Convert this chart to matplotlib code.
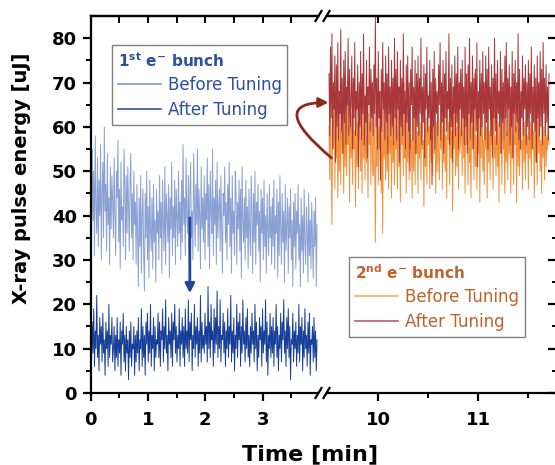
import numpy as np
import matplotlib
matplotlib.use("Agg")
import matplotlib.pyplot as plt
from matplotlib.lines import Line2D

plt.rcParams['font.family'] = ['DejaVu Sans']
plt.rcParams['mathtext.fontset'] = 'dejavusans'
plt.rcParams['mathtext.default'] = 'bf'

# ---------------- data ----------------
t1_start, t1_end = 0.0, 3.95        # first segment time span [min]
t2_start, t2_end = 9.51, 11.71      # second segment time span [min]

bunch1_before = [
    46,34,55,39,50,31,58,42,36,53,33,48,40,56,30,45,52,35,60,41,47,32,54,38,44,29,51,37,49,43,
    35,53,40,31,50,44,57,34,46,28,52,39,42,33,55,47,30,49,36,51,41,32,48,54,35,45,30,50,38,43,
    29,47,36,24,44,33,49,27,40,46,31,23,45,35,50,30,42,26,48,37,32,44,28,47,34,39,25,46,36,41,
    30,49,35,43,27,48,38,32,51,29,45,40,34,47,26,44,37,52,31,42,35,48,29,46,39,33,50,36,43,30,
    48,34,56,38,44,31,53,40,36,49,29,45,52,35,41,30,54,43,33,47,38,55,32,46,40,28,51,37,44,34,
    49,30,45,39,53,33,47,28,50,41,36,55,31,44,38,48,29,52,35,42,46,32,49,37,27,45,40,51,34,43,
    30,47,38,52,33,44,27,49,36,41,31,50,45,29,43,37,48,32,46,26,51,39,34,44,30,48,35,42,28,46,
    37,31,49,40,27,45,34,50,29,43,38,47,32,41,25,46,36,44,30,48,33,40,27,45,37,31,47,35,42,29,
    44,33,48,28,40,36,46,26,43,31,49,37,29,45,34,41,25,47,32,38,44,27,42,35,46,30,39,24,43,33,
    45,28,41,36,47,30,38,24,44,32,40,27,46,34,29,42,37,25,45,31,39,28,43,35,26,41,33,44,24,38]
bunch1_after = [
    12,7,16,9,19,6,14,10,22,8,13,5,17,11,15,7,18,9,12,4,16,10,14,6,20,8,13,11,17,7,
    10,15,5,13,8,17,6,12,9,16,4,14,11,18,7,13,5,15,9,12,3,14,8,16,6,11,10,15,4,13,
    7,14,9,17,5,12,10,19,6,15,8,13,4,16,11,18,7,14,9,20,6,13,10,17,5,15,8,12,11,18,
    8,16,6,14,12,19,7,15,10,21,9,13,5,17,11,14,8,18,6,16,12,20,9,15,7,13,10,19,6,14,
    11,17,8,15,6,19,10,14,9,21,7,16,12,18,5,13,10,20,8,15,11,17,6,14,9,22,7,16,10,13,
    9,18,11,15,7,24,10,16,8,20,12,14,6,19,9,17,11,23,8,15,10,21,7,13,12,18,9,16,6,14,
    10,19,8,15,11,22,7,14,9,17,5,13,10,20,8,16,12,18,6,15,9,21,11,14,7,17,10,19,8,13,
    6,15,9,18,11,14,7,20,10,16,5,13,8,17,12,15,6,19,9,14,11,21,7,16,4,13,10,18,8,15,
    9,17,6,14,11,20,8,15,5,13,10,18,7,16,12,21,9,14,6,17,10,19,8,15,3,12,11,18,7,14,
    10,16,6,13,9,20,7,15,11,17,5,14,8,19,10,13,6,16,9,18,4,12,11,15,7,17,8,14,5,12]
bunch2_before = [
    60,48,66,52,38,63,55,70,46,61,53,67,44,58,50,64,47,69,54,59,45,65,51,62,49,71,56,60,43,66,
    53,63,47,68,55,59,42,64,51,61,46,67,57,50,62,45,69,53,60,48,65,52,58,44,63,56,61,47,70,54,
    49,66,57,34,62,51,68,47,60,55,64,45,59,36,67,53,61,48,65,50,58,46,69,54,62,44,66,52,57,47,
    63,55,60,46,68,51,59,43,65,56,62,49,70,53,58,45,64,52,61,48,67,55,57,44,63,50,66,47,60,54,
    59,45,65,53,61,48,69,55,57,42,64,51,62,47,68,56,60,46,66,52,58,49,71,54,63,45,61,50,67,53,
    48,62,55,66,46,60,52,69,50,58,44,65,57,61,47,67,53,59,41,63,55,68,49,60,51,64,46,70,54,58,
    62,49,67,53,59,45,64,56,61,47,68,52,57,44,65,55,60,48,72,51,58,46,63,54,66,43,61,53,69,50,
    57,47,64,55,60,44,67,52,59,48,65,56,62,46,70,53,58,49,66,51,61,43,64,54,60,47,68,55,57,45,
    63,52,59,48,66,54,61,45,69,53,58,47,64,56,60,43,67,51,62,49,65,55,57,46,70,52,61,48,63,54,
    58,46,65,53,61,49,67,55,59,44,64,52,60,47,68,54,62,50,57,45,66,53,60,48,63,51,58,55,61,56]
bunch2_after = [
    72,58,78,62,81,55,70,64,76,52,74,60,79,57,68,63,82,59,71,54,75,61,77,56,69,65,80,58,73,60,
    66,76,55,71,62,79,58,68,64,74,51,70,60,77,57,72,63,81,56,67,61,75,53,69,65,78,59,73,62,70,
    58,74,63,85,60,71,55,77,62,68,48,73,59,79,64,70,57,76,61,72,54,78,63,69,58,75,60,71,56,80,
    62,73,57,77,64,69,52,75,60,71,58,81,63,68,55,74,61,76,59,70,50,73,65,78,57,69,62,75,54,72,
    60,76,58,71,63,80,56,69,61,74,53,72,64,78,59,67,62,75,57,70,47,73,60,77,55,71,63,68,58,74,
    65,79,57,70,61,75,54,72,62,77,59,68,64,81,56,71,60,74,52,69,63,76,58,72,61,78,55,70,64,73,
    58,75,62,69,56,78,60,72,54,74,63,80,57,70,61,76,55,71,64,73,59,79,51,68,62,75,58,72,60,77,
    63,70,57,76,61,73,55,78,64,69,58,74,53,71,62,80,59,72,56,75,63,68,60,77,54,73,61,70,57,76,
    62,79,58,71,64,74,56,69,60,77,53,72,63,75,59,70,61,81,57,73,55,68,62,76,58,71,64,74,56,70,
    60,75,57,72,63,78,55,69,61,74,59,71,52,76,62,70,58,77,60,73,56,79,63,71,58,74,61,69,57,72]

left_xticks = [0, 1, 2, 3]
right_xticks = [10, 11]
yticks = [0, 10, 20, 30, 40, 50, 60, 70, 80]

# ---------------- styling ----------------
c_b1_before = '#8aa0d2'
c_b1_after = '#173f9a'
c_b2_before = '#f3903a'
c_b2_after = '#a8363a'
c_txt1 = '#2b4fa3'
c_txt2 = '#c0622a'

W, H = 555, 465
fig = plt.figure(figsize=(W/100, H/100), dpi=100)

def fx(px):
    return px / W

def fy(py):
    return 1 - py / H

ax_bottom_px, ax_top_px = 393, 16
left_l, left_r = 90.7, 318
right_l, right_r = 327, 558

ax1 = fig.add_axes([fx(left_l), fy(ax_bottom_px), fx(left_r - left_l), (ax_bottom_px - ax_top_px) / H])
ax2 = fig.add_axes([fx(right_l), fy(ax_bottom_px), fx(right_r - right_l), (ax_bottom_px - ax_top_px) / H])

t1a = np.linspace(t1_start, t1_end, len(bunch1_before))
t1b = np.linspace(t1_start, t1_end, len(bunch1_after))
t2a = np.linspace(t2_start, t2_end, len(bunch2_before))
t2b = np.linspace(t2_start, t2_end, len(bunch2_after))

ax1.plot(t1a, bunch1_before, color=c_b1_before, lw=0.7)
ax1.plot(t1b, bunch1_after, color=c_b1_after, lw=0.7)
ax2.plot(t2a, bunch2_before, color=c_b2_before, lw=0.7)
ax2.plot(t2b, bunch2_after, color=c_b2_after, lw=0.7)

ylim = (0, 85)
ax1.set_xlim(0, (left_r - left_l) / 57.3)
ax1.set_ylim(*ylim)
ax2.set_xlim(10 + (right_l - 378) / 100, 10 + (right_r - 378) / 100)
ax2.set_ylim(*ylim)

for ax in (ax1, ax2):
    for s in ax.spines.values():
        s.set_linewidth(1.6)
ax1.spines['right'].set_visible(False)
ax2.spines['left'].set_visible(False)

tick_font = dict(fontsize=13, fontweight='bold')
ax1.set_xticks(left_xticks)
ax1.set_xticks(np.arange(0.5, 4.0, 1.0), minor=True)
ax1.set_yticks(yticks)
ax1.set_yticks(np.arange(5, 85, 10), minor=True)
ax1.set_xticklabels([str(v) for v in left_xticks], **tick_font)
ax1.set_yticklabels([str(v) for v in yticks], **tick_font)
ax1.tick_params(which='major', direction='out', length=6, width=1.6, pad=7)
ax1.tick_params(which='minor', direction='out', length=3.5, width=1.4)
ax1.tick_params(axis='x', which='major', pad=7)
ax1.tick_params(axis='y', which='major', pad=4)

ax2.set_xticks(right_xticks)
ax2.set_xticks([10.5, 11.5], minor=True)
ax2.set_xticklabels([str(v) for v in right_xticks], **tick_font)
ax2.set_yticks([])
ax2.tick_params(which='major', direction='out', length=6, width=1.6, pad=7)
ax2.tick_params(which='minor', direction='out', length=3.5, width=1.4)

# top inward ticks
sec1 = ax1.secondary_xaxis('top')
sec1.set_xticks(np.arange(0.5, 4.0, 0.5))
sec1.tick_params(direction='in', length=5, width=1.4, labeltop=False)
sec1.spines['top'].set_linewidth(1.6)
sec2 = ax2.secondary_xaxis('top')
sec2.set_xticks([10, 10.5, 11, 11.5])
sec2.tick_params(direction='in', length=5, width=1.4, labeltop=False)
sec2.spines['top'].set_linewidth(1.6)
# right inward ticks
sec3 = ax2.secondary_yaxis('right')
sec3.set_yticks(yticks)
sec3.set_yticks(np.arange(5, 85, 10), minor=True)
sec3.tick_params(which='major', direction='in', length=7, width=1.6, labelright=False)
sec3.tick_params(which='minor', direction='in', length=4, width=1.4)
sec3.spines['right'].set_linewidth(1.6)

# axis labels
fig.text(fx(22), fy(178), 'X-ray pulse energy [uJ]', rotation=90, ha='center', va='center',
         fontsize=14, fontweight='bold')
fig.text(fx(310), fy(454), 'Time [min]', ha='center', va='center', fontsize=16, fontweight='bold')

# break marks
for py in (ax_bottom_px, ax_top_px):
    for cx in (318.5, 326.5):
        fig.add_artist(Line2D([fx(cx - 3), fx(cx + 3)], [fy(py + 5), fy(py - 5)],
                              transform=fig.transFigure, color='black', lw=1.6))

# legends
leg_kw = dict(loc='upper left', bbox_transform=fig.transFigure, fontsize=12, title_fontsize=11,
              frameon=True, fancybox=False, edgecolor='#808080', framealpha=1, borderpad=0.35,
              labelspacing=0.4, handlelength=2.6, handletextpad=0.4, borderaxespad=0)

h1 = [Line2D([], [], color='#7a98d6', lw=1.2), Line2D([], [], color='#3556a8', lw=1.2)]
leg1 = ax1.legend(h1, ['Before Tuning', 'After Tuning'], title=r'1$^{st}$ e$^{-}$ bunch',
                  bbox_to_anchor=(fx(111.7), fy(45)), **leg_kw)
leg1.get_frame().set_linewidth(1.0)
leg1._legend_box.align = 'left'
leg1.get_title().set_color(c_txt1)
leg1.get_title().set_fontweight('bold')
for t in leg1.get_texts():
    t.set_color(c_txt1)

h2 = [Line2D([], [], color='#f2b070', lw=1.2), Line2D([], [], color='#b06068', lw=1.2)]
leg2 = ax2.legend(h2, ['Before Tuning', 'After Tuning'], title=r'2$^{nd}$ e$^{-}$ bunch',
                  bbox_to_anchor=(fx(349), fy(257)), **leg_kw)
leg2.get_frame().set_linewidth(1.0)
leg2._legend_box.align = 'left'
leg2.get_title().set_color(c_txt2)
leg2.get_title().set_fontweight('bold')
for t in leg2.get_texts():
    t.set_color(c_txt2)

# arrows
ax1.annotate('', xy=(1.73, 22.5), xytext=(1.73, 39.5),
             arrowprops=dict(arrowstyle='-|>', color='#1f45a0', lw=2, mutation_scale=14,
                             shrinkA=0, shrinkB=0))
ax2.annotate('', xy=(9.505, 65.5), xytext=(9.535, 53),
             arrowprops=dict(arrowstyle='-|>', color='#8b2a1a', lw=2, mutation_scale=14,
                             shrinkA=0, shrinkB=0, connectionstyle='angle3,angleA=140,angleB=0'),
             annotation_clip=False)

fig.savefig('out.png', dpi=100)
